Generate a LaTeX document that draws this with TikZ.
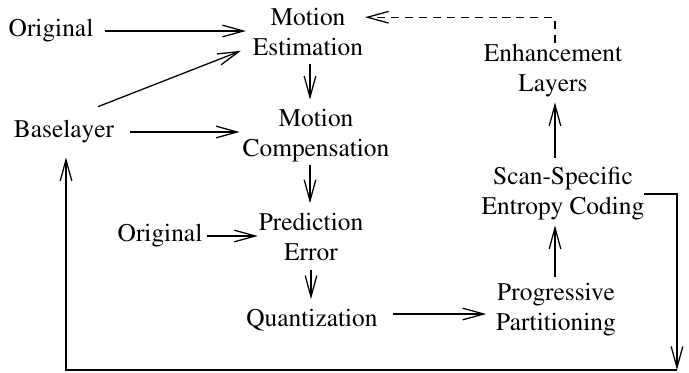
\documentclass[tikz,border=0pt]{standalone}
\usepackage[T1]{fontenc}
\usepackage{times}
\usetikzlibrary{arrows.meta, calc}

\begin{document}
\begin{tikzpicture}[x=0.4724pt, y=-0.4724pt, font=\rmfamily\fontsize{12}{14.2}\selectfont,
	every node/.style={align=center, inner sep=0pt, outer sep=0pt},
	flow/.style={line width=0.6pt, -{Straight Barb[length=10pt, width=5.5pt]}}]
	\useasboundingbox (0,0) rectangle (689,372);
	% inputs on the left
	\node (orig1) at (51,31) {Original};
	\node (base) at (64,132) {Baselayer};
	\node (orig2) at (160,236) {Original};
	% base layer coding chain
	\node (me) at (308,32) {Motion\\Estimation};
	\node (mc) at (316,136) {Motion\\Compensation};
	\node (pe) at (311,237) {Prediction\\Error};
	\node (quant) at (312,320) {Quantization};
	% enhancement chain
	\node (pp) at (556,310) {Progressive\\Partitioning};
	\node (ssec) at (563,194) {Scan-Specific\\Entropy Coding};
	\node (enh) at (553,71) {Enhancement\\Layers};
	% corners of the loop back
	\coordinate (lr) at (677,370);
	\coordinate (ll) at (66,370);

	\draw[flow] ($(orig1.east)+(12,0)$) -- ($(orig1.east -| me.west)+(-7,0)$);
	\draw[flow] ($(base.north)+(34,-14)$) -- ($(me.south west)+(-12,-5)$);
	\draw[flow] ($(base.east)+(16,0)$) -- ($(base.east -| mc.west)+(-3,0)$);
	\draw[flow] ($(me.south)+(2,8)$) -- ($(me.south |- mc.north)+(2,-10)$);
	\draw[flow] ($(pe.north |- mc.south)+(-1,3)$) -- ($(pe.north)+(-1,-10)$);
	\draw[flow] ($(orig2.east)+(5,0)$) -- ($(orig2.east -| pe.west)+(-1,0)$);
	\draw[flow] ($(pe.south)+(0,9)$) -- ($(pe.south |- quant.north)+(0,-10)$);
	\draw[flow] ($(quant.east)+(15,-6)$) -- ($(quant.east -| pp.west)+(-10,-6)$);
	\draw[flow] ($(pp.north)+(-1,-7)$) -- ($(pp.north |- ssec.south)+(-1,5)$);
	\draw[flow] ($(enh.south |- ssec.north)+(2,-10)$) -- ($(enh.south)+(2,5)$);
	\draw[flow, dash pattern=on 3.8pt off 2.8pt] ($(enh.north)+(2,-2)$) |- ($(me.north east)+(2,9)$);
	\draw[flow] (ssec.east) -| (lr);
	\draw[flow] (lr) -- (ll) -- ($(ll |- base.south)+(0,14)$);
\end{tikzpicture}
\end{document}
